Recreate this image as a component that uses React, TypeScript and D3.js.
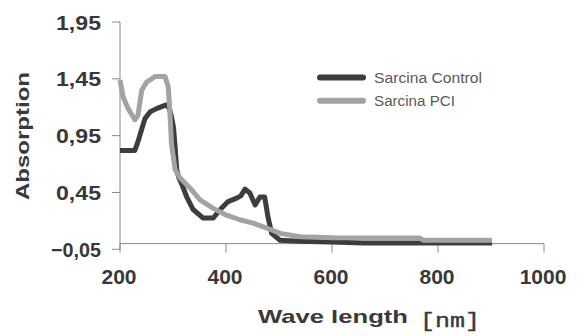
import React, { useEffect, useRef } from 'react';
import * as d3 from 'd3';

// wavelength (nm) and absorption
const controlWl = [200, 228, 232, 236, 247, 257, 270, 281, 287, 293, 297, 301, 304, 307, 311, 316, 326, 338, 357, 376, 389, 404, 420, 428, 436, 445, 455, 464, 473, 479, 486, 502, 540, 600, 659, 750, 850, 902];
const controlAbs = [0.82, 0.82, 0.87, 0.93, 1.10, 1.16, 1.19, 1.21, 1.22, 1.19, 1.12, 1.02, 0.85, 0.65, 0.58, 0.53, 0.41, 0.30, 0.225, 0.225, 0.30, 0.37, 0.40, 0.42, 0.48, 0.445, 0.34, 0.41, 0.41, 0.24, 0.09, 0.03, 0.02, 0.015, 0.005, 0.005, 0.005, 0.005];

const pciWl = [200, 206, 215, 228, 234, 241, 250, 266, 285, 291, 294, 297, 304, 313, 332, 351, 376, 401, 426, 451, 477, 502, 540, 603, 766, 772, 902];
const pciAbs = [1.44, 1.29, 1.19, 1.09, 1.13, 1.35, 1.42, 1.47, 1.47, 1.38, 1.175, 0.885, 0.65, 0.58, 0.49, 0.385, 0.31, 0.25, 0.21, 0.18, 0.137, 0.09, 0.06, 0.052, 0.05, 0.03, 0.03];

const xTicks = [200, 400, 600, 800, 1000];
const yTicks = [-0.05, 0.45, 0.95, 1.45, 1.95];
const seriesNames = ['Sarcina Control', 'Sarcina PCI'];
const seriesColors = ['#3d3d3d', '#a3a3a3'];

const App = () => {
  const svgRef = useRef<SVGSVGElement>(null);

  useEffect(() => {
    const svg = d3.select(svgRef.current);
    svg.selectAll('*').remove();

    const x = d3.scaleLinear().domain([200, 1000]).range([120, 544]);
    const y = d3.scaleLinear().domain([-0.05, 1.95]).range([249.3, 22]);
    const axisColor = '#8a8a8a';

    // y axis
    svg.append('line')
      .attr('x1', 120).attr('x2', 120)
      .attr('y1', y(1.95)).attr('y2', y(-0.05))
      .attr('stroke', axisColor).attr('stroke-width', 1);
    svg.selectAll('.ytick')
      .data(yTicks)
      .enter().append('line')
      .attr('x1', 112).attr('x2', 120)
      .attr('y1', d => y(d)).attr('y2', d => y(d))
      .attr('stroke', axisColor);
    svg.selectAll('.ylab')
      .data(yTicks)
      .enter().append('text')
      .attr('x', 101)
      .attr('y', d => y(d) + 7.5)
      .attr('text-anchor', 'end')
      .attr('font-family', 'Liberation Sans, Arial, sans-serif')
      .attr('font-weight', 'bold')
      .attr('font-size', 20)
      .attr('fill', '#383838')
      .attr('textLength', d => (d < 0 ? 50 : 45))
      .attr('lengthAdjust', 'spacingAndGlyphs')
      .text(d => d3.format('.2f')(d).replace('.', ','));

    // x axis at zero
    svg.append('line')
      .attr('x1', x(200)).attr('x2', x(1000))
      .attr('y1', y(0)).attr('y2', y(0))
      .attr('stroke', axisColor);
    svg.selectAll('.xtick')
      .data(xTicks)
      .enter().append('line')
      .attr('x1', d => x(d)).attr('x2', d => x(d))
      .attr('y1', y(0)).attr('y2', y(0) + 9)
      .attr('stroke', axisColor);
    svg.selectAll('.xlab')
      .data(xTicks)
      .enter().append('text')
      .attr('x', d => x(d) - 1)
      .attr('y', 284)
      .attr('text-anchor', 'middle')
      .attr('font-family', 'Liberation Sans, Arial, sans-serif')
      .attr('font-weight', 'bold')
      .attr('font-size', 21)
      .attr('fill', '#383838')
      .text(d => d);

    // curves
    const line = d3.line<[number, number]>()
      .x(d => x(d[0]))
      .y(d => y(d[1]));

    const series = [
      controlWl.map((w, i) => [w, controlAbs[i]] as [number, number]),
      pciWl.map((w, i) => [w, pciAbs[i]] as [number, number]),
    ];
    series.forEach((s, i) => {
      svg.append('path')
        .datum(s)
        .attr('d', line)
        .attr('fill', 'none')
        .attr('stroke', seriesColors[i])
        .attr('stroke-width', 5)
        .attr('stroke-linejoin', 'round');
    });

    // legend
    seriesNames.forEach((name, i) => {
      const ly = 77.5 + i * 23.3;
      svg.append('line')
        .attr('x1', 320).attr('x2', 363)
        .attr('y1', ly).attr('y2', ly)
        .attr('stroke', seriesColors[i])
        .attr('stroke-width', 6)
        .attr('stroke-linecap', 'round');
      svg.append('text')
        .attr('x', 374)
        .attr('y', ly + 5)
        .attr('font-family', 'Liberation Sans, Arial, sans-serif')
        .attr('font-size', 14)
        .attr('fill', '#5a5a5a')
        .attr('textLength', i === 0 ? 108 : 81)
        .attr('lengthAdjust', 'spacingAndGlyphs')
        .text(name);
    });

    // axis titles
    svg.append('text')
      .attr('transform', 'translate(29,136) rotate(-90)')
      .attr('text-anchor', 'middle')
      .attr('font-family', 'Liberation Sans, Arial, sans-serif')
      .attr('font-weight', 'bold')
      .attr('font-size', 18)
      .attr('fill', '#3a3a3a')
      .attr('textLength', 128)
      .attr('lengthAdjust', 'spacingAndGlyphs')
      .text('Absorption');

    svg.append('text')
      .attr('x', 258)
      .attr('y', 323)
      .attr('font-family', 'Liberation Sans, Arial, sans-serif')
      .attr('font-weight', 'bold')
      .attr('font-size', 19)
      .attr('fill', '#3a3a3a')
      .attr('textLength', 150)
      .attr('lengthAdjust', 'spacingAndGlyphs')
      .text('Wave length');

    svg.append('text')
      .attr('x', 420)
      .attr('y', 327)
      .attr('font-family', 'Liberation Mono, DejaVu Sans Mono, monospace')
      .attr('font-size', 21)
      .attr('fill', '#3a3a3a')
      .attr('stroke', '#3a3a3a')
      .attr('stroke-width', 0.4)
      .attr('textLength', 60)
      .attr('lengthAdjust', 'spacingAndGlyphs')
      .text('[nm]');
  }, []);

  return (
    <svg
      ref={svgRef}
      width={581}
      height={336}
      style={{ position: 'absolute', left: 0, top: 0, background: '#fff' }}
    />
  );
};

export default App;
